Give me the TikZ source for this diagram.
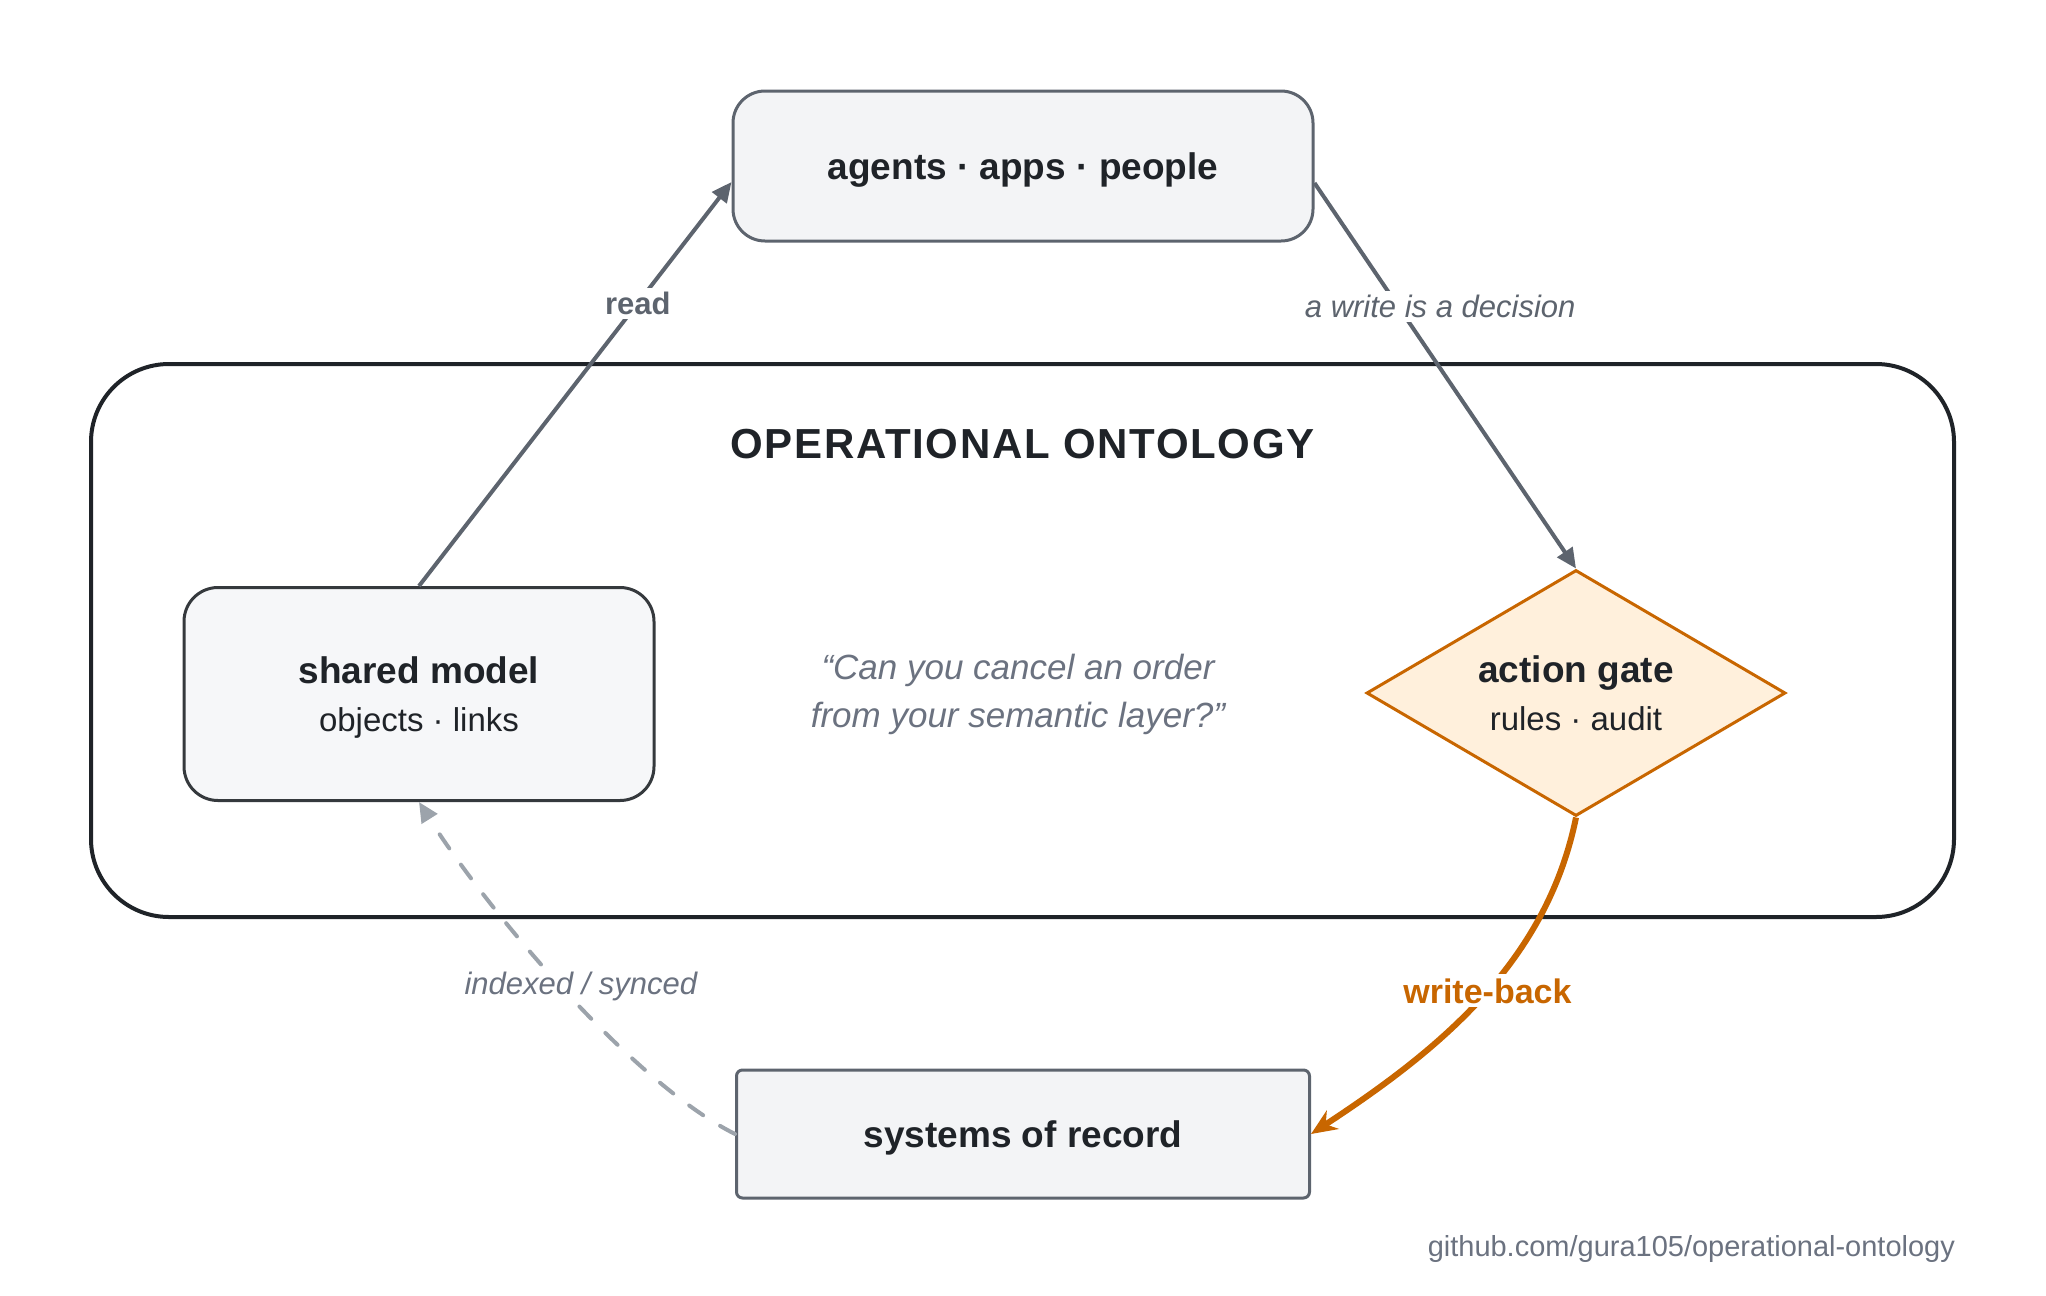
\documentclass[tikz,border=0pt]{standalone}
\usepackage{fontspec}
\setmainfont{Liberation Sans}
\newfontfamily\titlefont[LetterSpace=4]{Liberation Sans}
\usetikzlibrary{positioning, shapes.geometric, arrows.meta}

\definecolor{ink}{RGB}{31,35,40}
\definecolor{slate}{RGB}{93,100,110}
\definecolor{mute}{RGB}{107,114,128}
\definecolor{dashgray}{RGB}{156,163,171}
\definecolor{boxfill}{RGB}{243,244,246}
\definecolor{modelfill}{RGB}{246,247,249}
\definecolor{amber}{RGB}{200,102,0}
\definecolor{amberfill}{RGB}{255,240,220}

\begin{document}
\begin{tikzpicture}[x=0.5pt, y=-0.5pt,
    box/.style={draw=slate, line width=1.5pt, fill=boxfill, text=ink, align=center,
        text depth=0pt, font=\fontsize{18.5}{25}\selectfont\bfseries},
    link/.style={draw=slate, line width=2pt, -{Triangle[length=10pt, width=9pt]}},
    tag/.style={fill=white, inner sep=2pt, text=slate,
        font=\fontsize{15.5}{18}\selectfont\itshape}]
    \useasboundingbox (0,0) rectangle (2046,1296);

    % Nodes
    \node[box, rounded corners=16pt, minimum width=290pt, minimum height=75pt]
        (agents) at (1023,166) {agents · apps · people};
    \node[draw=ink, line width=2pt, rounded corners=39pt,
        minimum width=931.5pt, minimum height=276.5pt] (ontology) at (1022.5,640.5) {};
    \node[text=ink, font=\fontsize{21}{25}\titlefont\bfseries, below=30pt of ontology.north]
        (title) {OPERATIONAL ONTOLOGY};
    \node[box, draw=ink!90, fill=modelfill, rounded corners=17pt,
        minimum width=235pt, minimum height=106.5pt] (model) at (419,694)
        {shared model\\[-1pt]{\fontsize{16.5}{25}\selectfont\mdseries objects · links}};
    \node[diamond, shape aspect=1.7, draw=amber, line width=1.5pt, fill=amberfill,
        text=ink, align=center, text depth=0pt, inner sep=0pt,
        minimum width=209.5pt, minimum height=123pt,
        font=\fontsize{18.5}{25}\selectfont\bfseries] (gate) at (1576,693)
        {action gate\\[-1pt]{\fontsize{16.5}{25}\selectfont\mdseries rules · audit}};
    \node[box, rounded corners=3pt, minimum width=286.5pt, minimum height=64pt,
        below of=agents, node distance=484pt] (records) {systems of record};
    \node[text=mute, align=center, font=\fontsize{17.5}{24}\selectfont\itshape]
        (question) at (1018,694) {“Can you cancel an order\\from your semantic layer?”};
    \node[text=mute, anchor=east, font=\fontsize{14.5}{17}\selectfont]
        (repo) at (1962,1249) {github.com/gura105/operational-ontology};

    % Connectors
    \draw[link] (model.north) -- node[tag, pos=0.7, font=\fontsize{15.5}{18}\selectfont\bfseries]
        {read} ([yshift=-8pt]agents.west);
    \draw[link] ([yshift=-8.5pt]agents.east) -- node[tag, pos=0.32, xshift=21pt]
        {a write is a decision} (gate.north);
    \draw[amber, line width=3pt, -{Stealth[length=13pt, width=11pt]}] (gate.south)
        .. controls +(-30,147) and +(125,-82) .. node[pos=0.47, fill=white, inner sep=2pt,
        font=\fontsize{17}{20}\selectfont\bfseries] {write-back} (records.east);
    \draw[dashgray, line width=2pt, line cap=round, dash pattern=on 8.5pt off 10pt,
        -{Triangle[length=10pt, width=9pt]}] (records.west)
        .. controls +(-107,-54) and +(64,102) .. node[tag, text=mute, pos=0.5, xshift=10pt]
        {indexed / synced} (model.south);
\end{tikzpicture}
\end{document}
